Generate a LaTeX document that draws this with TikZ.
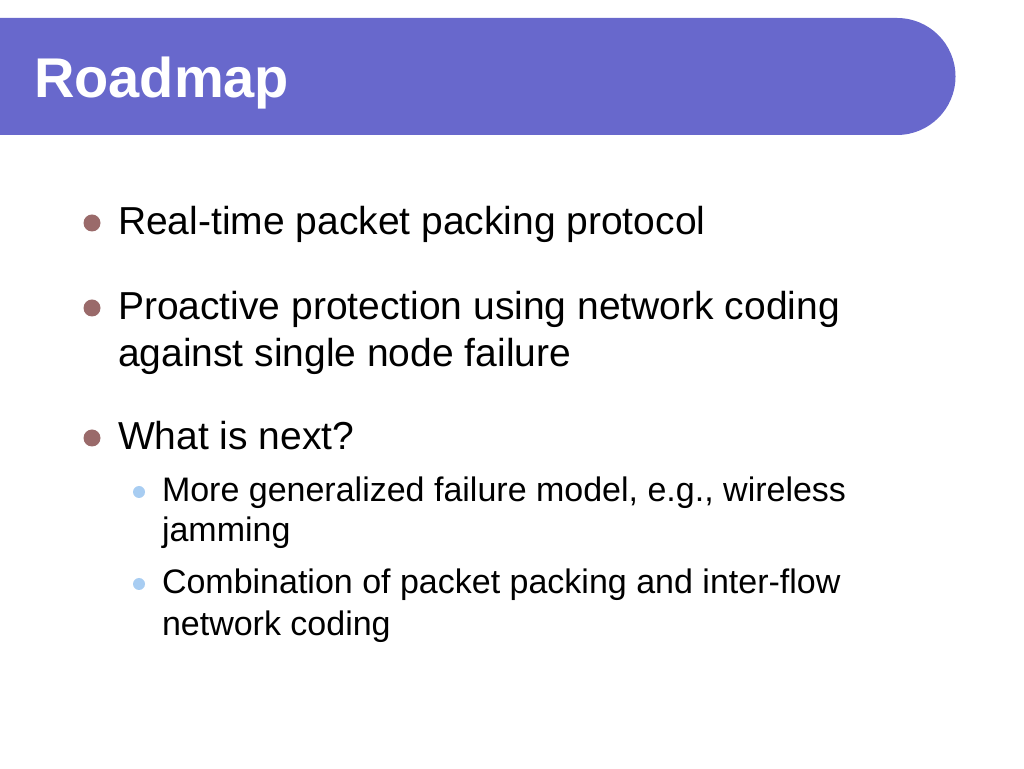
\documentclass[tikz,border=0pt]{standalone}
\usepackage{fontspec}
\setmainfont{Liberation Sans}
\definecolor{banner}{HTML}{6868CC}
\definecolor{dotbrown}{HTML}{9A6A6A}
\definecolor{dotblue}{HTML}{A8CDF2}
\begin{document}
\begin{tikzpicture}[x=1pt,y=1pt,inner sep=0pt,outer sep=0pt,
	item/.style={anchor=base west,font=\fontsize{39}{46}\selectfont,align=left},
	subitem/.style={anchor=base west,font=\fontsize{34}{40}\selectfont,align=left},
	bigdot/.style={circle,fill=dotbrown,minimum size=17pt},
	smalldot/.style={circle,fill=dotblue,minimum size=12pt}]
	\useasboundingbox (0,0) rectangle (1024,768);
	% title banner
	\fill[banner] (0,633) -- (897,633) arc (-90:90:58.5) -- (0,750) -- cycle;
	\node[anchor=base west,text=white,font=\fontsize{56}{64}\selectfont\bfseries] (title) at (34,670) {Roadmap};
	% bullets
	\node[bigdot] (d1) at (92,545) {};
	\node[item] (t1) at (118,533) {Real-time packet packing protocol};
	\node[bigdot] (d2) at (92,460) {};
	\node[item] (t2) at (118,448) {Proactive protection using network coding};
	\node[item] (t2b) at (118,401) {against single node failure};
	\node[bigdot] (d3) at (92,330) {};
	\node[item] (t3) at (118,318) {What is next?};
	\node[smalldot] (s1) at (139,276) {};
	\node[subitem] (u1) at (162,266) {More generalized failure model, e.g., wireless};
	\node[subitem] (u1b) at (162,226) {jamming};
	\node[smalldot] (s2) at (139,184) {};
	\node[subitem] (u2) at (162,174) {Combination of packet packing and inter-flow};
	\node[subitem] (u2b) at (162,133) {network coding};
\end{tikzpicture}
\end{document}
